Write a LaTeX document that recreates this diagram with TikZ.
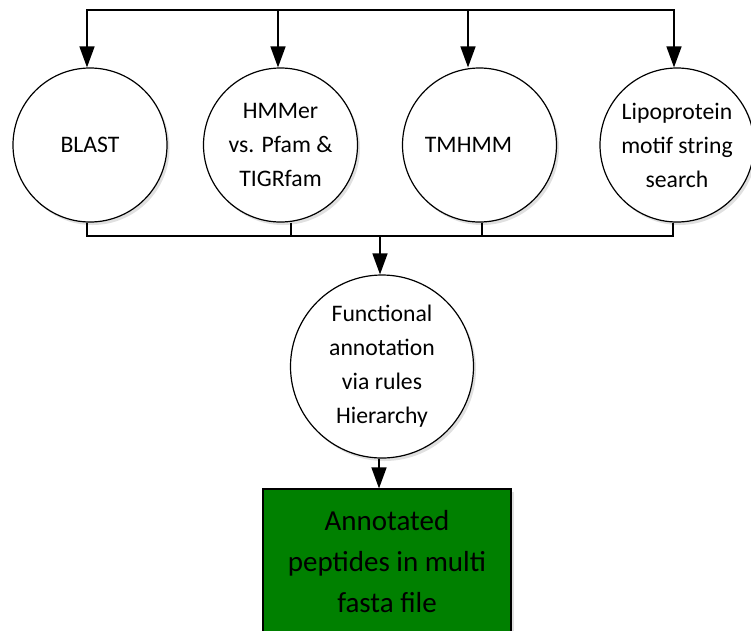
\documentclass[tikz,border=0pt]{standalone}
\usepackage{fontspec}
\setmainfont{Carlito}
\usetikzlibrary{arrows.meta,shadows}
\begin{document}
\begin{tikzpicture}[x=1pt,y=-1pt,
  conn/.style={line width=1.6pt, line join=miter},
  tip/.style={-{Triangle[width=15pt,length=21pt]}},
  shade/.style={drop shadow={shadow xshift=2.5pt, shadow yshift=-3pt, opacity=0.12, fill=black}},
  blob/.style={circle, draw=black, line width=1.2pt, fill=white, inner sep=0pt,
    minimum size=154pt, align=center, shade,
    font=\fontsize{23.7}{34}\selectfont},
  bigblob/.style={blob, minimum size=183pt},
  outbox/.style={rectangle, draw=black, line width=1.2pt, fill=outgreen,
    minimum width=248pt, minimum height=145pt, align=center, shade,
    font=\fontsize{29}{41}\selectfont}
]
\definecolor{outgreen}{RGB}{0,128,0}
\useasboundingbox (0,0) rectangle (751,630);

\node[blob] (blast) at (90,145) {BLAST};
\node[blob] (hmm) at (280.5,145) {HMMer\\vs. Pfam \&\\TIGRfam};
\node[blob] (tm) at (479.5,145) {TMHMM\hspace*{22pt}};
\node[blob] (lipo) at (677,145) {Lipoprotein\\motif string\\search};
\node[bigblob] (func) at (382,366.5) {Functional\\annotation\\via rules\\Hierarchy};
\node[outbox] (box) at (387,561.5) {Annotated\\peptides in multi\\fasta file};

\coordinate (t1) at (87,10);
\coordinate (t2) at (278,10);
\coordinate (t3) at (468,10);
\coordinate (t4) at (674,10);
\coordinate (b1) at (87,236);
\coordinate (b2) at (291,236);
\coordinate (b3) at (482,236);
\coordinate (b4) at (673,236);
\coordinate (m) at (380,236);
\coordinate (fx) at (379,458);

% top distribution bus
\draw[conn,{Triangle[width=15pt,length=21pt]}-{Triangle[width=15pt,length=21pt]}]
  (t1 |- blast.north) -- (t1) -- (t4) -- (t4 |- lipo.north);
\draw[conn,tip] (t2) -- (t2 |- hmm.north);
\draw[conn,tip] (t3) -- (t3 |- tm.north);

% bottom collecting bus
\draw[conn] (b1 |- blast.south) -- (b1) -- (b4) -- (b4 |- lipo.south);
\draw[conn] (b2 |- hmm.south) -- (b2);
\draw[conn] (b3 |- tm.south) -- (b3);
\draw[conn,tip] (m) -- (m |- func.north);

% to output
\draw[conn,tip] (fx |- func.south) -- (fx |- box.north);
\end{tikzpicture}
\end{document}
